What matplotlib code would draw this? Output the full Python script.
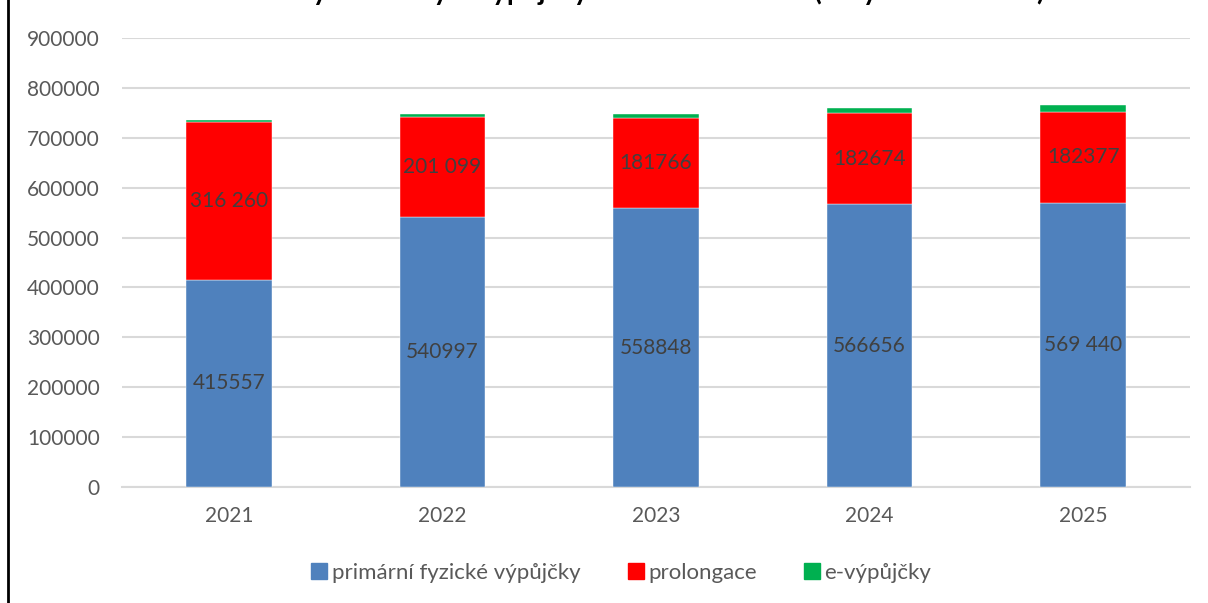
import numpy as np
import matplotlib.pyplot as plt
from matplotlib.lines import Line2D

plt.rcParams['font.family'] = ['Lato', 'DejaVu Sans']

# data
years = ['2021', '2022', '2023', '2024', '2025']
primarni = [415557, 540997, 558848, 566656, 569440]
prolongace = [316260, 201099, 181766, 182674, 182377]
e_vypujcky = [4500, 6000, 7000, 10500, 13000]
primarni_labels = ['415557', '540997', '558848', '566656', '569 440']
prolongace_labels = ['316 260', '201 099', '181766', '182674', '182377']
series_names = ['primární fyzické výpůjčky', 'prolongace', 'e-výpůjčky']
title = 'Statistiky knihovny – výpůjčky celkem dle druhu (roky 2021 - 2025)'

BLUE = '#4F81BD'
RED = '#FF0000'
GREEN = '#00B050'
TXT = '#404040'

fig = plt.figure(figsize=(12.08, 6.03), dpi=100)
ax = fig.add_axes([122 / 1208, 1 - 487 / 603, (1190 - 122) / 1208, (487 - 38) / 603])

x = np.arange(len(years))
w = 0.4
prim = np.array(primarni)
prol = np.array(prolongace)
ev = np.array(e_vypujcky)

ax.bar(x, prim, w, color=BLUE, edgecolor='white', linewidth=0.3, zorder=3)
ax.bar(x, prol, w, bottom=prim, color=RED, edgecolor='white', linewidth=0.3, zorder=3)
ax.bar(x, ev, w, bottom=prim + prol, color=GREEN, edgecolor='white', linewidth=0.3, zorder=3)

# segment labels
for i in range(len(years)):
    ax.text(x[i], prim[i] / 2, primarni_labels[i], ha='center', va='center',
            fontsize=15, color=TXT, zorder=4)
    ax.text(x[i], prim[i] + prol[i] / 2, prolongace_labels[i], ha='center', va='center',
            fontsize=15, color=TXT, zorder=4)

ax.set_xlim(-0.5, len(years) - 0.5)
ax.set_ylim(0, 900000)
ax.set_yticks(np.arange(0, 900001, 100000))
ax.set_xticks(x)
ax.set_xticklabels(years)
ax.yaxis.grid(True, color='#D9D9D9', linewidth=1.5, zorder=0)
ax.set_axisbelow(True)
for s in ['top', 'right', 'left']:
    ax.spines[s].set_visible(False)
ax.spines['bottom'].set_color('#D9D9D9')
ax.spines['bottom'].set_linewidth(1.5)
ax.tick_params(axis='both', length=0, labelsize=15, labelcolor='#595959')
ax.tick_params(axis='y', pad=16)
ax.tick_params(axis='x', pad=14)

# legend
handles = [Line2D([0], [0], marker='s', linestyle='none', markersize=11,
                  markerfacecolor=c, markeredgecolor=c) for c in [BLUE, RED, GREEN]]
fig.legend(handles, series_names, loc='center', bbox_to_anchor=(0.513, 1 - 573 / 603),
           ncol=3, frameon=False, fontsize=16, labelcolor='#595959',
           handletextpad=0.05, columnspacing=2.0, handlelength=1.0)

# title (clipped at the top edge, as in the source)
fig.text(0.52, 1.0, title, ha='center', va='baseline', fontsize=20,
         fontweight='bold', color='black')

# left border of the chart frame
fig.add_artist(Line2D([8 / 1208, 8 / 1208], [0, 1], color='black', linewidth=2))

fig.savefig('out.png', dpi=100)
